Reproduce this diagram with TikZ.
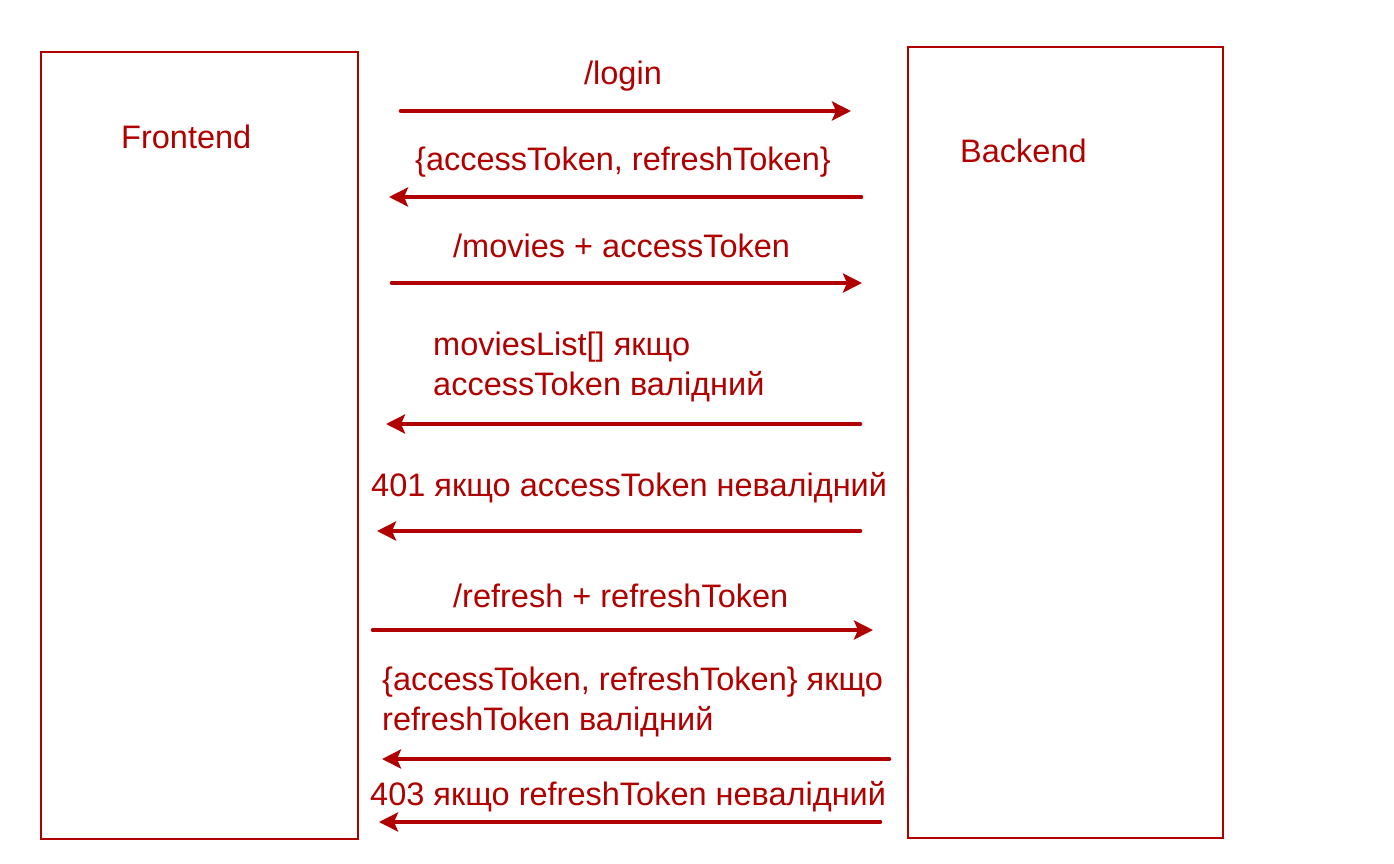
\documentclass[tikz,border=0pt]{standalone}
\usepackage{fontspec}
\setmainfont{Liberation Sans}
\usetikzlibrary{arrows.meta}
\definecolor{dred}{RGB}{176,0,0}
\begin{document}
\begin{tikzpicture}[x=1pt,y=-1pt,
  box/.style={draw=dred,line width=1.6pt},
  lbl/.style={anchor=base west,inner sep=0pt,text=dred,font=\fontsize{32.5}{38}\selectfont},
  msg/.style={draw=dred,line width=4.6pt,line cap=round,-{Stealth[length=19pt,width=19pt,inset=4pt]}}]
\useasboundingbox (0,0) rectangle (1394,863);
% boxes
\node[box,minimum width=317pt,minimum height=787pt,anchor=north west,inner sep=0pt] (fe) at (40,51) {};
\node[box,minimum width=315pt,minimum height=791pt,anchor=north west,inner sep=0pt] (be) at (907,46) {};
\node[lbl] (fel) at (121,148) {Frontend};
\node[lbl] (bel) at (960,162) {Backend};
% labels
\node[lbl,anchor=base] (t1) at (623,84) {/login};
\node[lbl] (t2) at (415,170) {\{accessToken, refreshToken\}};
\node[lbl] (t3) at (453,257) {/movies + accessToken};
\node[lbl] (t4a) at (433,355) {moviesList[] якщо};
\node[lbl] (t4b) at (433,395) {accessToken валідний};
\node[lbl] (t5) at (371,496) {401 якщо accessToken невалідний};
\node[lbl] (t6) at (453,607) {/refresh + refreshToken};
\node[lbl] (t7a) at (382,690) {\{accessToken, refreshToken\} якщо};
\node[lbl] (t7b) at (382,730) {refreshToken валідний};
\node[lbl] (t8) at (370,805) {403 якщо refreshToken невалідний};
% arrow endpoints
\coordinate (a1s) at (401,111); \coordinate (a1e) at (851,111);
\coordinate (a2s) at (861,197); \coordinate (a2e) at (389,197);
\coordinate (a3s) at (392,283); \coordinate (a3e) at (862,283);
\coordinate (a4s) at (860,424); \coordinate (a4e) at (386,424);
\coordinate (a5s) at (860,531); \coordinate (a5e) at (377,531);
\coordinate (a6s) at (373,630); \coordinate (a6e) at (873,630);
\coordinate (a7s) at (889,759); \coordinate (a7e) at (382,759);
\coordinate (a8s) at (880,822); \coordinate (a8e) at (379,822);
\draw[msg] (a1s) -- (a1e);
\draw[msg] (a2s) -- (a2e);
\draw[msg] (a3s) -- (a3e);
\draw[msg] (a4s) -- (a4e);
\draw[msg] (a5s) -- (a5e);
\draw[msg] (a6s) -- (a6e);
\draw[msg] (a7s) -- (a7e);
\draw[msg] (a8s) -- (a8e);
\end{tikzpicture}
\end{document}
